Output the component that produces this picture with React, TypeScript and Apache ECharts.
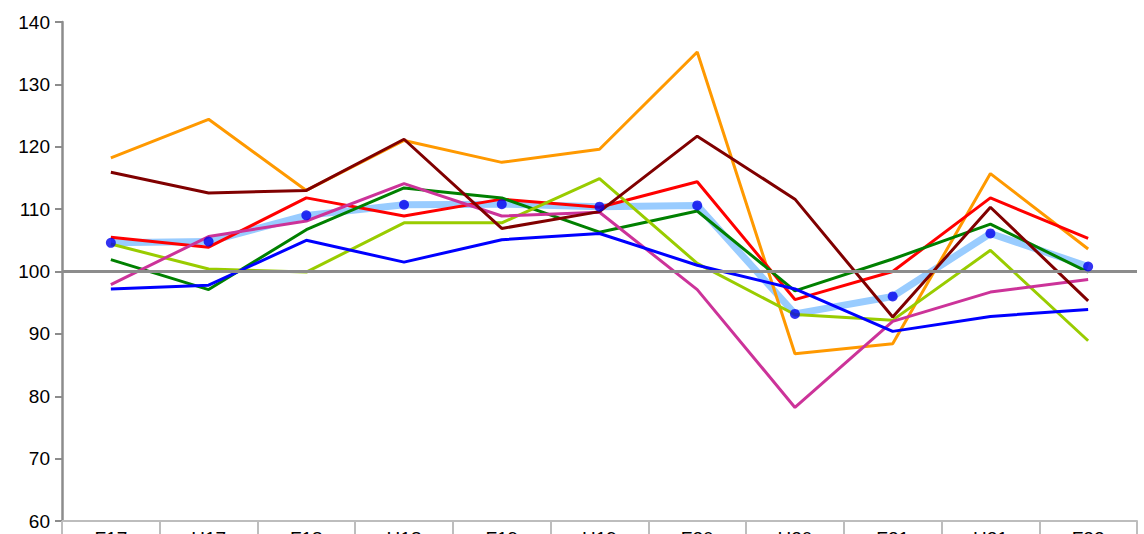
import React, { useEffect, useRef } from "react";
import * as echarts from "echarts";

const categories = ["F17", "H17", "F18", "H18", "F19", "H19", "F20", "H20", "F21", "H21", "F22"];

const lightBlue = [104.6, 104.8, 109.0, 110.7, 110.8, 110.4, 110.6, 93.2, 96.0, 106.1, 100.8];
const orange = [118.2, 124.4, 113.0, 121.0, 117.5, 119.6, 135.2, 86.8, 88.4, 115.7, 103.6];
const darkRed = [115.9, 112.6, 113.0, 121.2, 106.9, 109.6, 121.7, 111.6, 92.7, 110.3, 95.3];
const red = [105.5, 103.9, 111.8, 108.9, 111.6, 110.3, 114.4, 95.5, 100.0, 111.8, 105.3];
const green = [101.9, 97.1, 106.7, 113.4, 111.8, 106.3, 109.7, 96.9, 102.0, 107.6, 99.9];
const yellowGreen = [104.4, 100.4, 99.9, 107.8, 107.8, 114.9, 101.3, 93.1, 92.2, 103.4, 88.9];
const magenta = [97.9, 105.6, 108.1, 114.1, 108.9, 109.5, 97.1, 78.2, 92.0, 96.7, 98.7];
const blue = [97.2, 97.8, 105.0, 101.5, 105.1, 106.1, 101.0, 97.2, 90.4, 92.8, 93.9];

const yTicks = { min: 60, max: 140, interval: 10 };
const referenceLevel = 100;

const font = "'Liberation Sans', Arial, sans-serif";

export default function App() {
  const ref = useRef<HTMLDivElement>(null);
  useEffect(() => {
    if (!ref.current) return;
    const chart = echarts.init(ref.current, null, { renderer: "svg" });
    const line = (name: string, data: number[], color: string, width: number, z: number) => ({
      name,
      type: "line",
      data,
      showSymbol: false,
      symbol: "none",
      z,
      lineStyle: { color, width },
      itemStyle: { color },
      emphasis: { disabled: true },
    });
    chart.setOption({
      animation: false,
      grid: { left: 62, right: 7, top: 22, bottom: 13, containLabel: false, outerBoundsMode: "none" },
      xAxis: {
        type: "category",
        data: categories,
        boundaryGap: true,
        axisLine: { show: true, lineStyle: { color: "#bdbdbd", width: 2 } },
        axisTick: { show: true, alignWithLabel: false, length: 14, lineStyle: { color: "#bdbdbd", width: 2 } },
        axisLabel: { color: "#000", fontSize: 19, fontFamily: font, margin: 8 },
        splitLine: { show: false },
      },
      yAxis: {
        type: "value",
        min: yTicks.min,
        max: yTicks.max,
        interval: yTicks.interval,
        axisLine: { show: true, lineStyle: { color: "#8c8c8c", width: 2.5 } },
        axisTick: { show: true, length: 7, lineStyle: { color: "#8c8c8c", width: 2 } },
        axisLabel: { color: "#000", fontSize: 19, fontFamily: font, margin: 12 },
        splitLine: { show: false },
      },
      series: [
        line("Light blue", lightBlue, "#99ccff", 7, 1),
        line("Orange", orange, "#ff9900", 3, 2),
        line("Dark red", darkRed, "#800000", 3, 3),
        line("Red", red, "#ff0000", 3, 2),
        line("Green", green, "#008000", 3, 2),
        line("Yellow green", yellowGreen, "#99cc00", 3, 2),
        line("Magenta", magenta, "#cc3399", 3, 2),
        line("Blue", blue, "#0000ff", 3, 2),
        {
          name: "Light blue points",
          type: "scatter",
          data: lightBlue,
          symbol: "circle",
          symbolSize: 10,
          z: 5,
          itemStyle: { color: "#0000ee" },
          emphasis: { disabled: true },
          markLine: {
            silent: true,
            symbol: ["none", "none"],
            label: { show: false },
            lineStyle: { color: "#8c8c8c", width: 3, type: "solid" },
            data: [{ yAxis: referenceLevel }],
          },
        },
      ],
    });
    return () => chart.dispose();
  }, []);
  return <div ref={ref} style={{ width: 1144, height: 534, position: "absolute", left: 0, top: 0 }} />;
}
